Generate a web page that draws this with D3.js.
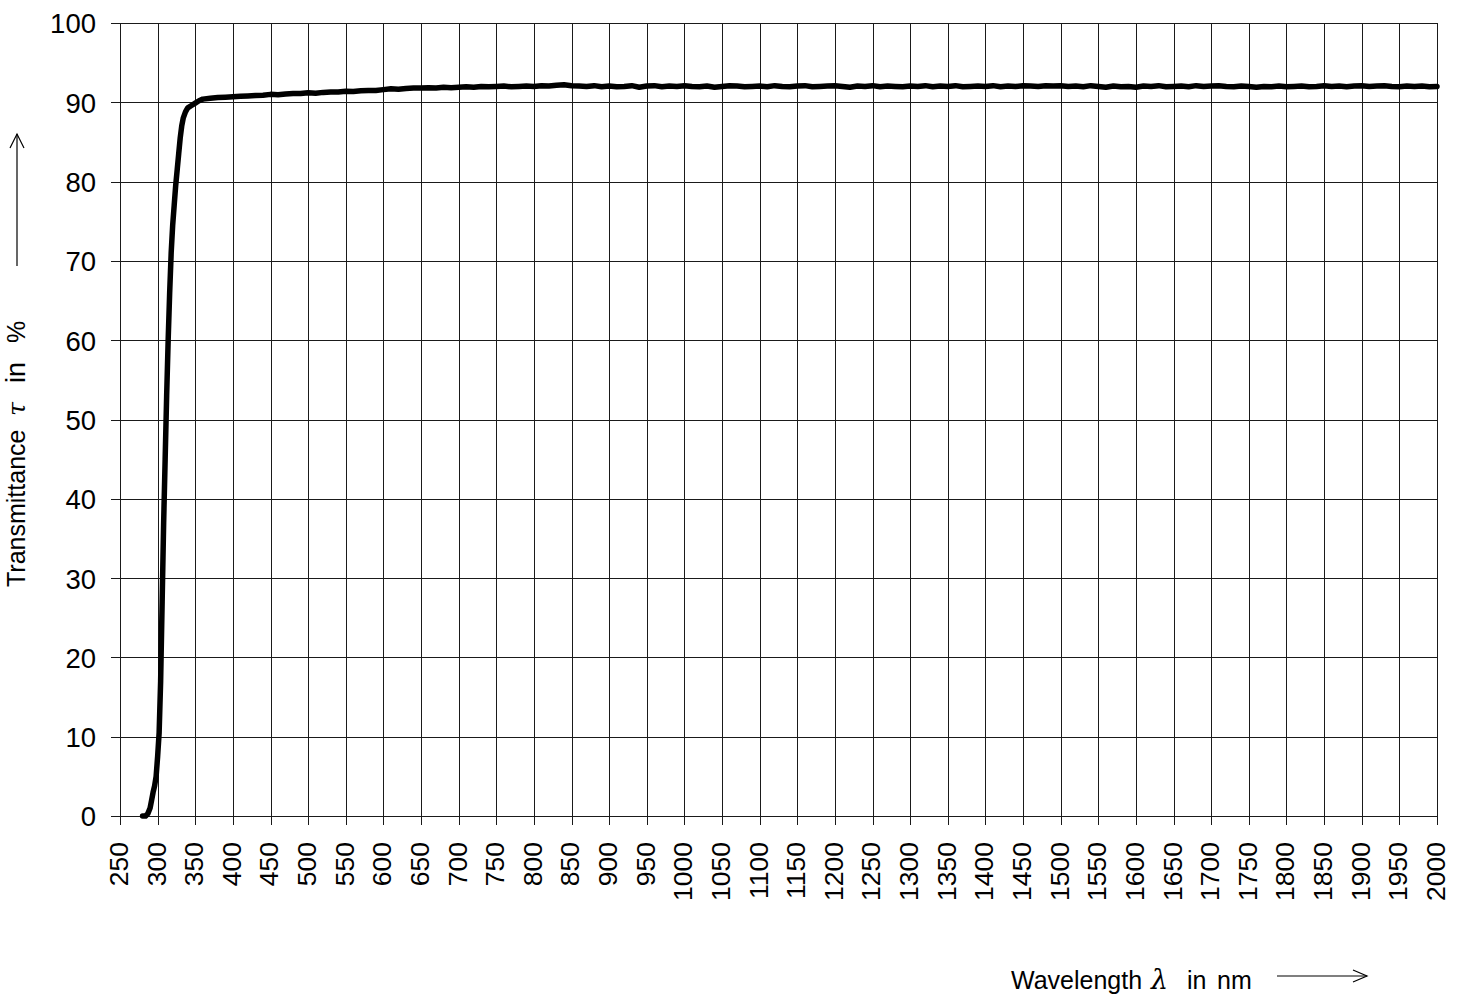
<!DOCTYPE html>
<html><head><meta charset="utf-8">
<script src="https://cdnjs.cloudflare.com/ajax/libs/d3/7.8.5/d3.min.js"></script>
<style>body{margin:0;background:#fff}svg{display:block}</style>
</head><body><svg id="c" width="1458" height="999"></svg>
<script>
const xTicks = d3.range(250, 2001, 50);
const yTicks = d3.range(0, 101, 10);
const rampWl = [280,284,287,290,292,294,296,298,300,302,304,306,308,310,312,314,316,318,320,322,324,326,328,330,332,334,337,340,345,350,355,360,370,380,390,400];
const rampT  = [0,0,0.3,1,2,3,3.8,5,7.5,10.5,17,27,37,45,53,60,66,71,74.5,77,79.5,81.5,83.5,85.5,87,88,88.8,89.3,89.6,89.9,90.2,90.4,90.5,90.6,90.65,90.7];
const flatStart = 410, flatStep = 10;
const flatT = [
 90.75,90.8,90.85,90.9,91.0,90.95,91.05,91.1,91.1,
 91.2,91.15,91.25,91.3,91.3,91.4,91.35,91.45,91.5,91.5,
 91.6,91.7,91.65,91.75,91.8,91.8,91.85,91.8,91.9,91.85,
 91.9,91.95,91.9,92.0,91.95,92.0,92.05,91.95,92.0,92.05,
 92.0,92.1,92.05,92.15,92.2,92.1,92.05,92.0,92.1,91.95,
 92.05,91.95,92.0,92.1,91.9,92.05,92.1,91.95,92.05,92.0,
 92.1,92.0,91.95,92.05,91.9,92.0,92.1,92.05,91.95,92.0,
 92.05,91.95,92.1,92.0,91.95,92.05,92.1,91.95,92.0,92.05,
 92.1,92.0,91.9,92.05,92.0,92.1,91.95,92.05,92.0,91.95,
 92.05,92.0,92.1,91.95,92.05,92.0,92.1,91.95,92.0,92.05,
 92.0,92.1,91.95,92.05,92.0,92.1,92.05,92.0,92.1,92.05,
 92.1,92.0,92.05,91.95,92.1,92.0,91.9,92.05,91.95,92.0,
 91.9,92.05,92.0,92.1,91.95,92.0,92.05,91.95,92.1,92.0,
 92.05,92.1,92.0,91.95,92.05,92.0,91.9,92.0,91.95,92.05,
 91.95,92.0,92.05,91.95,92.0,92.1,92.0,92.05,91.95,92.05,
 92.1,92.0,92.05,92.1,92.0,91.95,92.05,92.0,92.05,91.95,
 92.0];

const data = rampWl.map((w,i)=>({w, t:rampT[i]}))
  .concat(flatT.map((t,i)=>({w: flatStart + i*flatStep, t})));

const svg = d3.select('#c');
const L = 120, R = 1437, T = 23, B = 816;
const x = d3.scaleLinear().domain([250,2000]).range([L,R]);
const y = d3.scaleLinear().domain([0,100]).range([B,T]);
const font = 'Arial, "Liberation Sans", sans-serif';
const serif = '"DejaVu Serif", "Liberation Serif", serif';

// grid
const g = svg.append('g').attr('shape-rendering','crispEdges').attr('stroke','#1a1a1a').attr('stroke-width',1);
g.selectAll('.vx').data(xTicks).join('line')
  .attr('x1',d=>Math.round(x(d))+0.5).attr('x2',d=>Math.round(x(d))+0.5)
  .attr('y1',T).attr('y2',B+9);
g.selectAll('.hy').data(yTicks).join('line')
  .attr('y1',d=>Math.round(y(d))+0.5).attr('y2',d=>Math.round(y(d))+0.5)
  .attr('x1',L-9).attr('x2',R);

// axis labels via d3 axes
const ax = svg.append('g').attr('transform',`translate(0,${B})`)
  .call(d3.axisBottom(x).tickValues(xTicks).tickSize(0).tickPadding(0).tickFormat(d3.format('d')));
ax.select('.domain').remove();
ax.selectAll('text').attr('transform','rotate(-90)').attr('text-anchor','end')
  .attr('x',-26).attr('y',0).attr('dy','0.28em')
  .style('font-family',font).style('font-size','26.5px').attr('fill','#000');

const ay = svg.append('g').attr('transform',`translate(${L},0)`)
  .call(d3.axisLeft(y).tickValues(yTicks).tickSize(0).tickPadding(0).tickFormat(d3.format('d')));
ay.select('.domain').remove();
ay.selectAll('text').attr('x',-24).attr('dy','0.36em')
  .style('font-family',font).style('font-size','27.5px').attr('fill','#000');

// curve
svg.append('path').datum(data)
  .attr('d', d3.line().x(d=>x(d.w)).y(d=>y(d.t)))
  .attr('fill','none').attr('stroke','#000').attr('stroke-width',5.5)
  .attr('stroke-linejoin','round').attr('stroke-linecap','round');

// y title
const yt = svg.append('text').attr('transform','translate(25,587) rotate(-90)')
  .style('font-family',font).style('font-size','25px');
yt.append('tspan').attr('x',0).text('Transmittance');
yt.append('tspan').attr('x',171).style('font-family',serif).style('font-style','italic').style('font-size','25px').text('τ');
yt.append('tspan').attr('x',204).style('font-size','27px').text('in');
yt.append('tspan').attr('x',244).text('%');

// y arrow
const arr = svg.append('g').attr('stroke','#000').attr('stroke-width',1.2).attr('fill','none');
arr.append('line').attr('x1',17).attr('x2',17).attr('y1',266).attr('y2',134);
arr.append('path').attr('d','M10,148 L17,134 L24,148');

// x title
const xt = svg.append('text').attr('y',989)
  .style('font-family',font).style('font-size','25px');
xt.append('tspan').attr('x',1011).text('Wavelength');
xt.append('tspan').attr('x',1151).style('font-family',serif).style('font-style','italic').style('font-size','27px').text('λ');
xt.append('tspan').attr('x',1187).text('in');
xt.append('tspan').attr('x',1217).text('nm');
arr.append('line').attr('x1',1277).attr('x2',1367).attr('y1',976).attr('y2',976);
arr.append('path').attr('d','M1353,970 L1367,976 L1353,982');
</script></body></html>
